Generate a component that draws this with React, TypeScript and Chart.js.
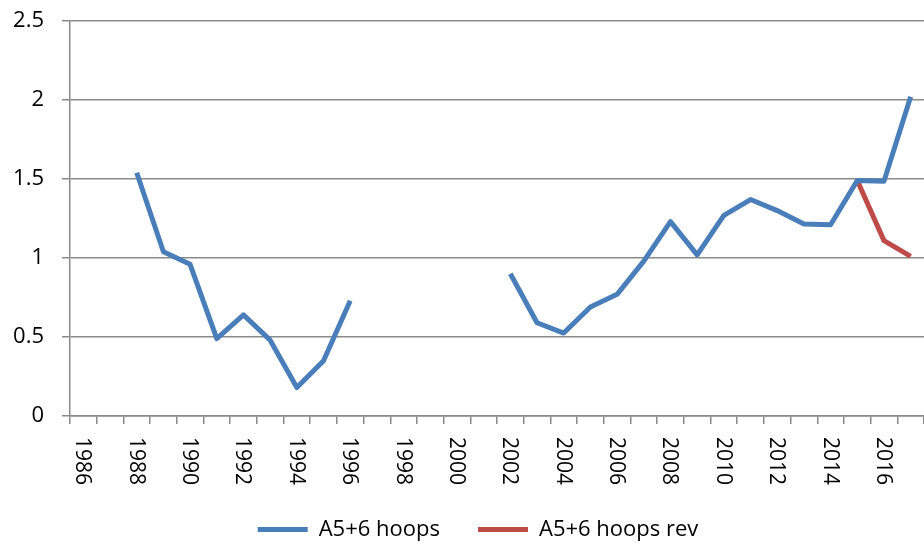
import React, { useEffect, useRef } from "react";
import { Chart, registerables } from "chart.js";

Chart.register(...registerables);

const years: string[] = [
  "1986","1987","1988","1989","1990","1991","1992","1993","1994","1995",
  "1996","1997","1998","1999","2000","2001","2002","2003","2004","2005",
  "2006","2007","2008","2009","2010","2011","2012","2013","2014","2015",
  "2016","2017",
];

const hoops: (number | null)[] = [
  null, null, 1.54, 1.04, 0.96, 0.49, 0.64, 0.48, 0.18, 0.35,
  0.73, null, null, null, null, null, 0.9, 0.59, 0.525, 0.69,
  0.77, 0.98, 1.23, 1.02, 1.27, 1.37, 1.3, 1.215, 1.21, 1.49,
  1.485, 2.02,
];

const hoopsRev: (number | null)[] = [
  null, null, null, null, null, null, null, null, null, null,
  null, null, null, null, null, null, null, null, null, null,
  null, null, null, null, null, null, null, null, null, 1.49,
  1.11, 1.01,
];

const seriesNames = ["A5+6 hoops", "A5+6 hoops rev"];
const seriesColors = ["#4A7EBB", "#BE4B48"];
const yTicks = [0, 0.5, 1, 1.5, 2, 2.5];

const FONT = "'Open Sans', 'DejaVu Sans', sans-serif";
const GRID = "#8a8a8a";

const xLabelsPlugin = {
  id: "xLabelsRotated",
  afterLayout(chart: any) {
    const lg = chart.legend;
    if (lg) {
      lg.left += 16;
      lg.right += 16;
    }
  },
  afterDraw(chart: any) {
    const sc = chart.scales.x;
    const ctx = chart.ctx;
    ctx.save();
    ctx.font = `21px ${FONT}`;
    ctx.fillStyle = "#000";
    ctx.textAlign = "left";
    ctx.textBaseline = "middle";
    years.forEach((lab, i) => {
      if (i % 2 !== 0) return;
      const x = sc.getPixelForTick(i);
      ctx.save();
      ctx.translate(x - 1, chart.chartArea.bottom + 21);
      ctx.rotate(Math.PI / 2);
      ctx.fillText(lab, 0, 0);
      ctx.restore();
    });
    ctx.restore();
  },
};

export default function App() {
  const ref = useRef<HTMLCanvasElement | null>(null);

  useEffect(() => {
    document.body.style.margin = "0";
    const canvas = ref.current!;
    const chart = new Chart(canvas, {
      type: "line",
      data: {
        labels: years,
        datasets: [
          {
            label: seriesNames[0],
            data: hoops,
            borderColor: seriesColors[0],
            backgroundColor: seriesColors[0],
            borderWidth: 5,
            pointRadius: 0,
            tension: 0,
            spanGaps: false,
            borderJoinStyle: "round",
          },
          {
            label: seriesNames[1],
            data: hoopsRev,
            borderColor: seriesColors[1],
            backgroundColor: seriesColors[1],
            borderWidth: 5,
            pointRadius: 0,
            tension: 0,
            spanGaps: false,
            borderJoinStyle: "round",
          },
        ],
      },
      options: {
        animation: false,
        responsive: false,
        maintainAspectRatio: false,
        layout: { padding: { left: 0, right: 0, top: 21, bottom: -6.5 } },
        plugins: {
          tooltip: { enabled: false },
          legend: {
            display: true,
            position: "bottom",
            labels: {
              boxWidth: 50,
              boxHeight: 5,
              padding: 38,
              color: "#000",
              font: { family: FONT, size: 22 },
              generateLabels: (c: any) =>
                c.data.datasets.map((ds: any, i: number) => ({
                  text: ds.label,
                  fillStyle: ds.borderColor,
                  strokeStyle: ds.borderColor,
                  lineWidth: 0,
                  hidden: !c.isDatasetVisible(i),
                  datasetIndex: i,
                })),
            },
          },
        },
        scales: {
          x: {
            type: "category",
            offset: true,
            grid: {
              display: true,
              offset: true,
              drawOnChartArea: false,
              drawTicks: true,
              tickLength: 8,
              color: GRID,
              lineWidth: 1.5,
            },
            border: { display: true, color: GRID, width: 1.5 },
            ticks: { display: false, autoSkip: false },
            afterFit: (s: any) => {
              s.height = 64.5;
              s.paddingLeft = 0;
              s.paddingRight = 0;
            },
          },
          y: {
            min: 0,
            max: 2.5,
            afterBuildTicks: (s: any) => {
              s.ticks = yTicks.map((v) => ({ value: v }));
            },
            grid: {
              display: true,
              drawTicks: true,
              tickLength: 8,
              color: GRID,
              lineWidth: 1.5,
            },
            border: { display: true, color: GRID, width: 1.5 },
            ticks: {
              padding: 18,
              color: "#000",
              font: { family: FONT, size: 22 },
              callback: (v: any) => String(v),
            },
            afterFit: (s: any) => {
              s.width = 70;
              s.paddingTop = 0;
              s.paddingBottom = 0;
            },
          },
        },
      },
      plugins: [xLabelsPlugin],
    });
    return () => chart.destroy();
  }, []);

  return (
    <div style={{ position: "absolute", left: 0, top: 0, width: 924, height: 544 }}>
      <canvas ref={ref} width={924} height={544} style={{ display: "block" }} />
    </div>
  );
}
